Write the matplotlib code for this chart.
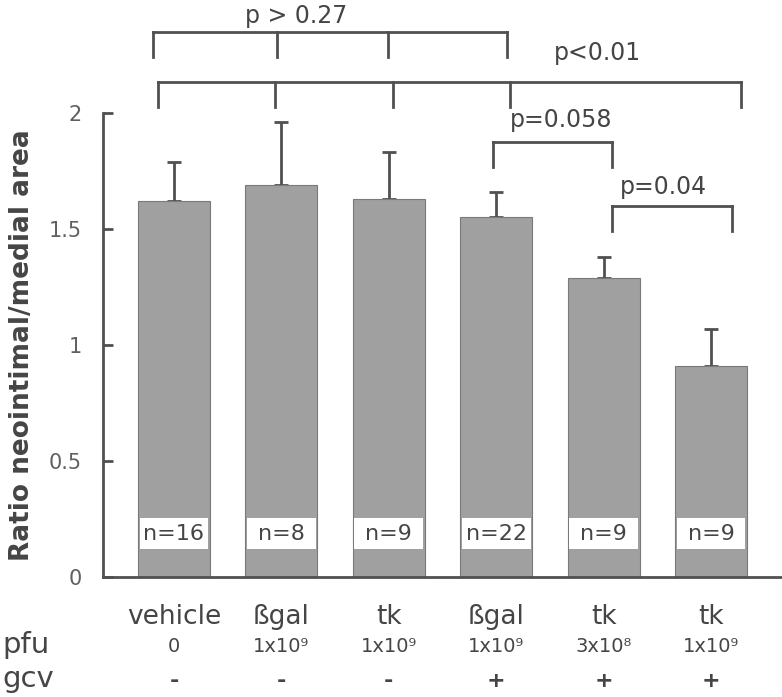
import numpy as np
import matplotlib
matplotlib.use("Agg")
from matplotlib import pyplot as plt
from matplotlib.transforms import blended_transform_factory

# data
groups = ["vehicle", "\u00dfgal", "tk", "\u00dfgal", "tk", "tk"]
pfu = ["0", "1x10\u2079", "1x10\u2079", "1x10\u2079", "3x10\u2078", "1x10\u2079"]
gcv = ["-", "-", "-", "+", "+", "+"]
ratio = [1.62, 1.69, 1.63, 1.55, 1.29, 0.91]
sem = [0.17, 0.27, 0.20, 0.11, 0.09, 0.16]
n_animals = [16, 8, 9, 22, 9, 9]

# significance brackets: (label, tick x positions, top y, text x, text y)
brackets = [
    ("p > 0.27", [-0.20, 0.96, 1.99, 3.10], 2.35, 1.14, 2.42),
    ("p<0.01", [-0.15, 0.94, 2.04, 3.13, 5.28], 2.135, 3.94, 2.26),
    ("p=0.058", [2.97, 4.08], 1.875, 3.60, 1.97),
    ("p=0.04", [4.08, 5.20], 1.60, 4.56, 1.68),
]

DARK = "#505050"
TXT = "#454545"
BAR = "#a0a0a0"

plt.rcParams['font.family'] = ['DejaVu Sans']
fig = plt.figure(figsize=(7.82, 6.97), dpi=100)
ax = fig.add_axes([103 / 782, 120 / 697, 679 / 782, 464 / 697])

x = np.arange(len(groups))
ax.bar(x, ratio, width=0.67, color=BAR, edgecolor="#7a7a7a", linewidth=0.8, zorder=2)
ax.errorbar(x, ratio, yerr=[np.zeros(len(sem)), sem], fmt="none", ecolor=DARK,
            elinewidth=2.0, capsize=5, capthick=2.0, zorder=1)

# white n= boxes inside each bar
ax.bar(x, [0.135] * len(x), bottom=0.12, width=0.64, color="white", linewidth=0, zorder=3)
for xi, n in zip(x, n_animals):
    ax.text(xi, 0.187, f"n={n}", ha="center", va="center", fontsize=16, color=TXT, zorder=4)

ax.set_xlim(-0.661, 5.661)
ax.set_ylim(0, 2)
ax.set_yticks([0, 0.5, 1, 1.5, 2])
ax.set_yticklabels(["0", "0.5", "1", "1.5", "2"])
ax.tick_params(axis="y", direction="in", length=7, width=2, color=DARK, pad=15,
               labelsize=15, labelcolor="#606060")
ax.set_xticks([])
for s in ["top", "right"]:
    ax.spines[s].set_visible(False)
for s in ["left", "bottom"]:
    ax.spines[s].set_color(DARK)
    ax.spines[s].set_linewidth(2)
ax.spines["left"].set_bounds(0, 2)

fig.text(22 / 782, 1 - 345 / 697, "Ratio neointimal/medial area", rotation=90,
         ha="center", va="center", fontsize=19, fontweight="bold", color=TXT)

# brackets
for label, xs, ytop, tx, ty in brackets:
    ax.plot([xs[0], xs[-1]], [ytop, ytop], color=DARK, lw=2, clip_on=False,
            solid_capstyle="projecting")
    for xb in xs:
        ax.plot([xb, xb], [ytop, ytop - 0.108], color=DARK, lw=2, clip_on=False)
    ax.text(tx, ty, label, ha="center", va="center", fontsize=17, color=TXT)

# category rows below the axis
tr = blended_transform_factory(ax.transData, fig.transFigure)
for xi, g, p, c in zip(x, groups, pfu, gcv):
    ax.text(xi, 1 - 617 / 697, g, transform=tr, ha="center", va="center", fontsize=19, color=TXT)
    ax.text(xi, 1 - 647 / 697, p, transform=tr, ha="center", va="center", fontsize=14, color=TXT)
    ax.text(xi, 1 - 681 / 697, c, transform=tr, ha="center", va="center", fontsize=16,
            fontweight="bold", color=TXT)
fig.text(2 / 782, 1 - 645 / 697, "pfu", ha="left", va="center", fontsize=21, color=TXT)
fig.text(2 / 782, 1 - 679 / 697, "gcv", ha="left", va="center", fontsize=21, color=TXT)

fig.savefig("out.png", dpi=100)
